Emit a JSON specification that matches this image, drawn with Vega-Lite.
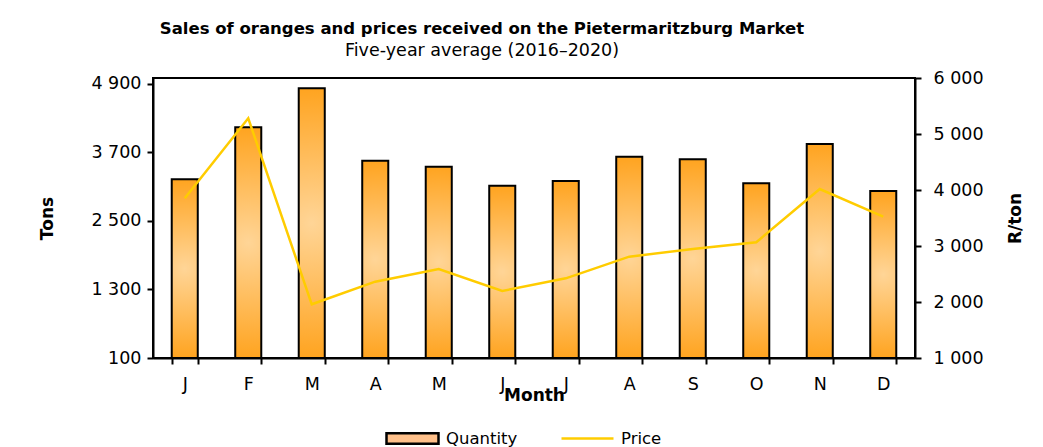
{
  "$schema": "https://vega.github.io/schema/vega-lite/v6.json",
  "width": 762,
  "height": 280,
  "autosize": {"type": "none"},
  "padding": {"left": 153, "top": 78, "right": 128, "bottom": 89},
  "background": "white",
  "title": {
    "text": "Sales of oranges and prices received on the Pietermaritzburg Market",
    "subtitle": "Five-year average (2016–2020)",
    "anchor": "middle",
    "dx": -52,
    "offset": 10,
    "font": "DejaVu Sans",
    "fontSize": 16.5,
    "fontWeight": "bold",
    "color": "black",
    "subtitleFont": "DejaVu Sans",
    "subtitleFontSize": 17.5,
    "subtitleColor": "black",
    "subtitlePadding": 4
  },
  "data": {
    "values": [
      {"month": "Jan", "qty": 3227, "price": 3852},
      {"month": "Feb", "qty": 4137, "price": 5281},
      {"month": "Mar", "qty": 4820, "price": 1959},
      {"month": "Apr", "qty": 3553, "price": 2363},
      {"month": "May", "qty": 3448, "price": 2590},
      {"month": "Jun", "qty": 3115, "price": 2197},
      {"month": "Jul", "qty": 3198, "price": 2423},
      {"month": "Aug", "qty": 3623, "price": 2810},
      {"month": "Sep", "qty": 3577, "price": 2947},
      {"month": "Oct", "qty": 3157, "price": 3066},
      {"month": "Nov", "qty": 3845, "price": 4018},
      {"month": "Dec", "qty": 3022, "price": 3524}
    ]
  },
  "encoding": {
    "x": {
      "field": "month",
      "type": "nominal",
      "sort": ["Jan","Feb","Mar","Apr","May","Jun","Jul","Aug","Sep","Oct","Nov","Dec"],
      "scale": {"paddingInner": 0.59, "paddingOuter": 0.295},
      "axis": {
        "title": "Month",
        "labelExpr": "substring(datum.label, 0, 1)",
        "labelAngle": 0,
        "tickBand": "extent",
        "titlePadding": -5,
        "labelPadding": 11
      }
    }
  },
  "layer": [
    {
      "mark": {
        "type": "bar",
        "stroke": "black",
        "strokeWidth": 2,
        "fill": {
          "gradient": "radial",
          "x1": 0.5, "y1": 0.5, "r1": 0,
          "x2": 0.5, "y2": 0.5, "r2": 0.6,
          "stops": [
            {"offset": 0, "color": "#FFD597"},
            {"offset": 1, "color": "#FF9A08"}
          ]
        }
      },
      "encoding": {
        "y": {
          "field": "qty",
          "type": "quantitative",
          "scale": {"domain": [100, 5000], "nice": false, "zero": false},
          "axis": {
            "orient": "left",
            "title": "Tons",
            "values": [100, 1300, 2500, 3700, 4900],
            "labelExpr": "replace(format(datum.value, ','), ',', ' ')",
            "labelPadding": 6,
            "titlePadding": 34
          }
        },
        "y2": {"datum": 100}
      }
    },
    {
      "mark": {"type": "line", "strokeWidth": 2.5},
      "encoding": {
        "y": {
          "field": "price",
          "type": "quantitative",
          "scale": {"domain": [1000, 6000], "nice": false, "zero": false},
          "axis": {
            "orient": "right",
            "title": "R/ton",
            "titleAngle": 270,
            "values": [1000, 2000, 3000, 4000, 5000, 6000],
            "labelExpr": "replace(format(datum.value, ','), ',', ' ')",
            "labelPadding": 12,
            "titlePadding": 41
          }
        },
        "color": {
          "datum": "Price",
          "scale": {"range": ["#FFCC00"]},
          "legend": {
            "title": null,
            "orient": "none",
            "legendX": 407,
            "legendY": 333,
            "symbolType": "stroke",
            "symbolSize": 2704,
            "symbolStrokeWidth": 2.5,
            "labelOffset": 6
          }
        }
      }
    },
    {
      "transform": [{"filter": "false"}],
      "mark": {"type": "point", "filled": true, "stroke": "black", "strokeWidth": 2.5, "opacity": 1},
      "encoding": {
        "fill": {
          "datum": "Quantity",
          "scale": {"range": ["#FFC08A"]},
          "legend": {
            "title": null,
            "orient": "none",
            "legendX": 232,
            "legendY": 333,
            "symbolType": "M-1,-0.2H1V0.2H-1Z",
            "symbolSize": 2704,
            "symbolStrokeColor": "black",
            "symbolStrokeWidth": 2.5,
            "labelOffset": 6
          }
        }
      }
    }
  ],
  "resolve": {"scale": {"y": "independent", "color": "independent", "fill": "independent"}},
  "config": {
    "font": "DejaVu Sans",
    "view": {"stroke": "black", "strokeWidth": 2},
    "axis": {
      "domainColor": "black",
      "domainWidth": 2,
      "tickColor": "black",
      "tickWidth": 2,
      "tickSize": 6,
      "grid": false,
      "labelFont": "DejaVu Sans",
      "labelFontSize": 17.5,
      "labelColor": "black",
      "titleFont": "DejaVu Sans",
      "titleFontSize": 17,
      "titleFontWeight": "bold",
      "titleColor": "black"
    },
    "legend": {
      "labelFont": "DejaVu Sans",
      "labelFontSize": 16.5,
      "labelColor": "black"
    }
  }
}
